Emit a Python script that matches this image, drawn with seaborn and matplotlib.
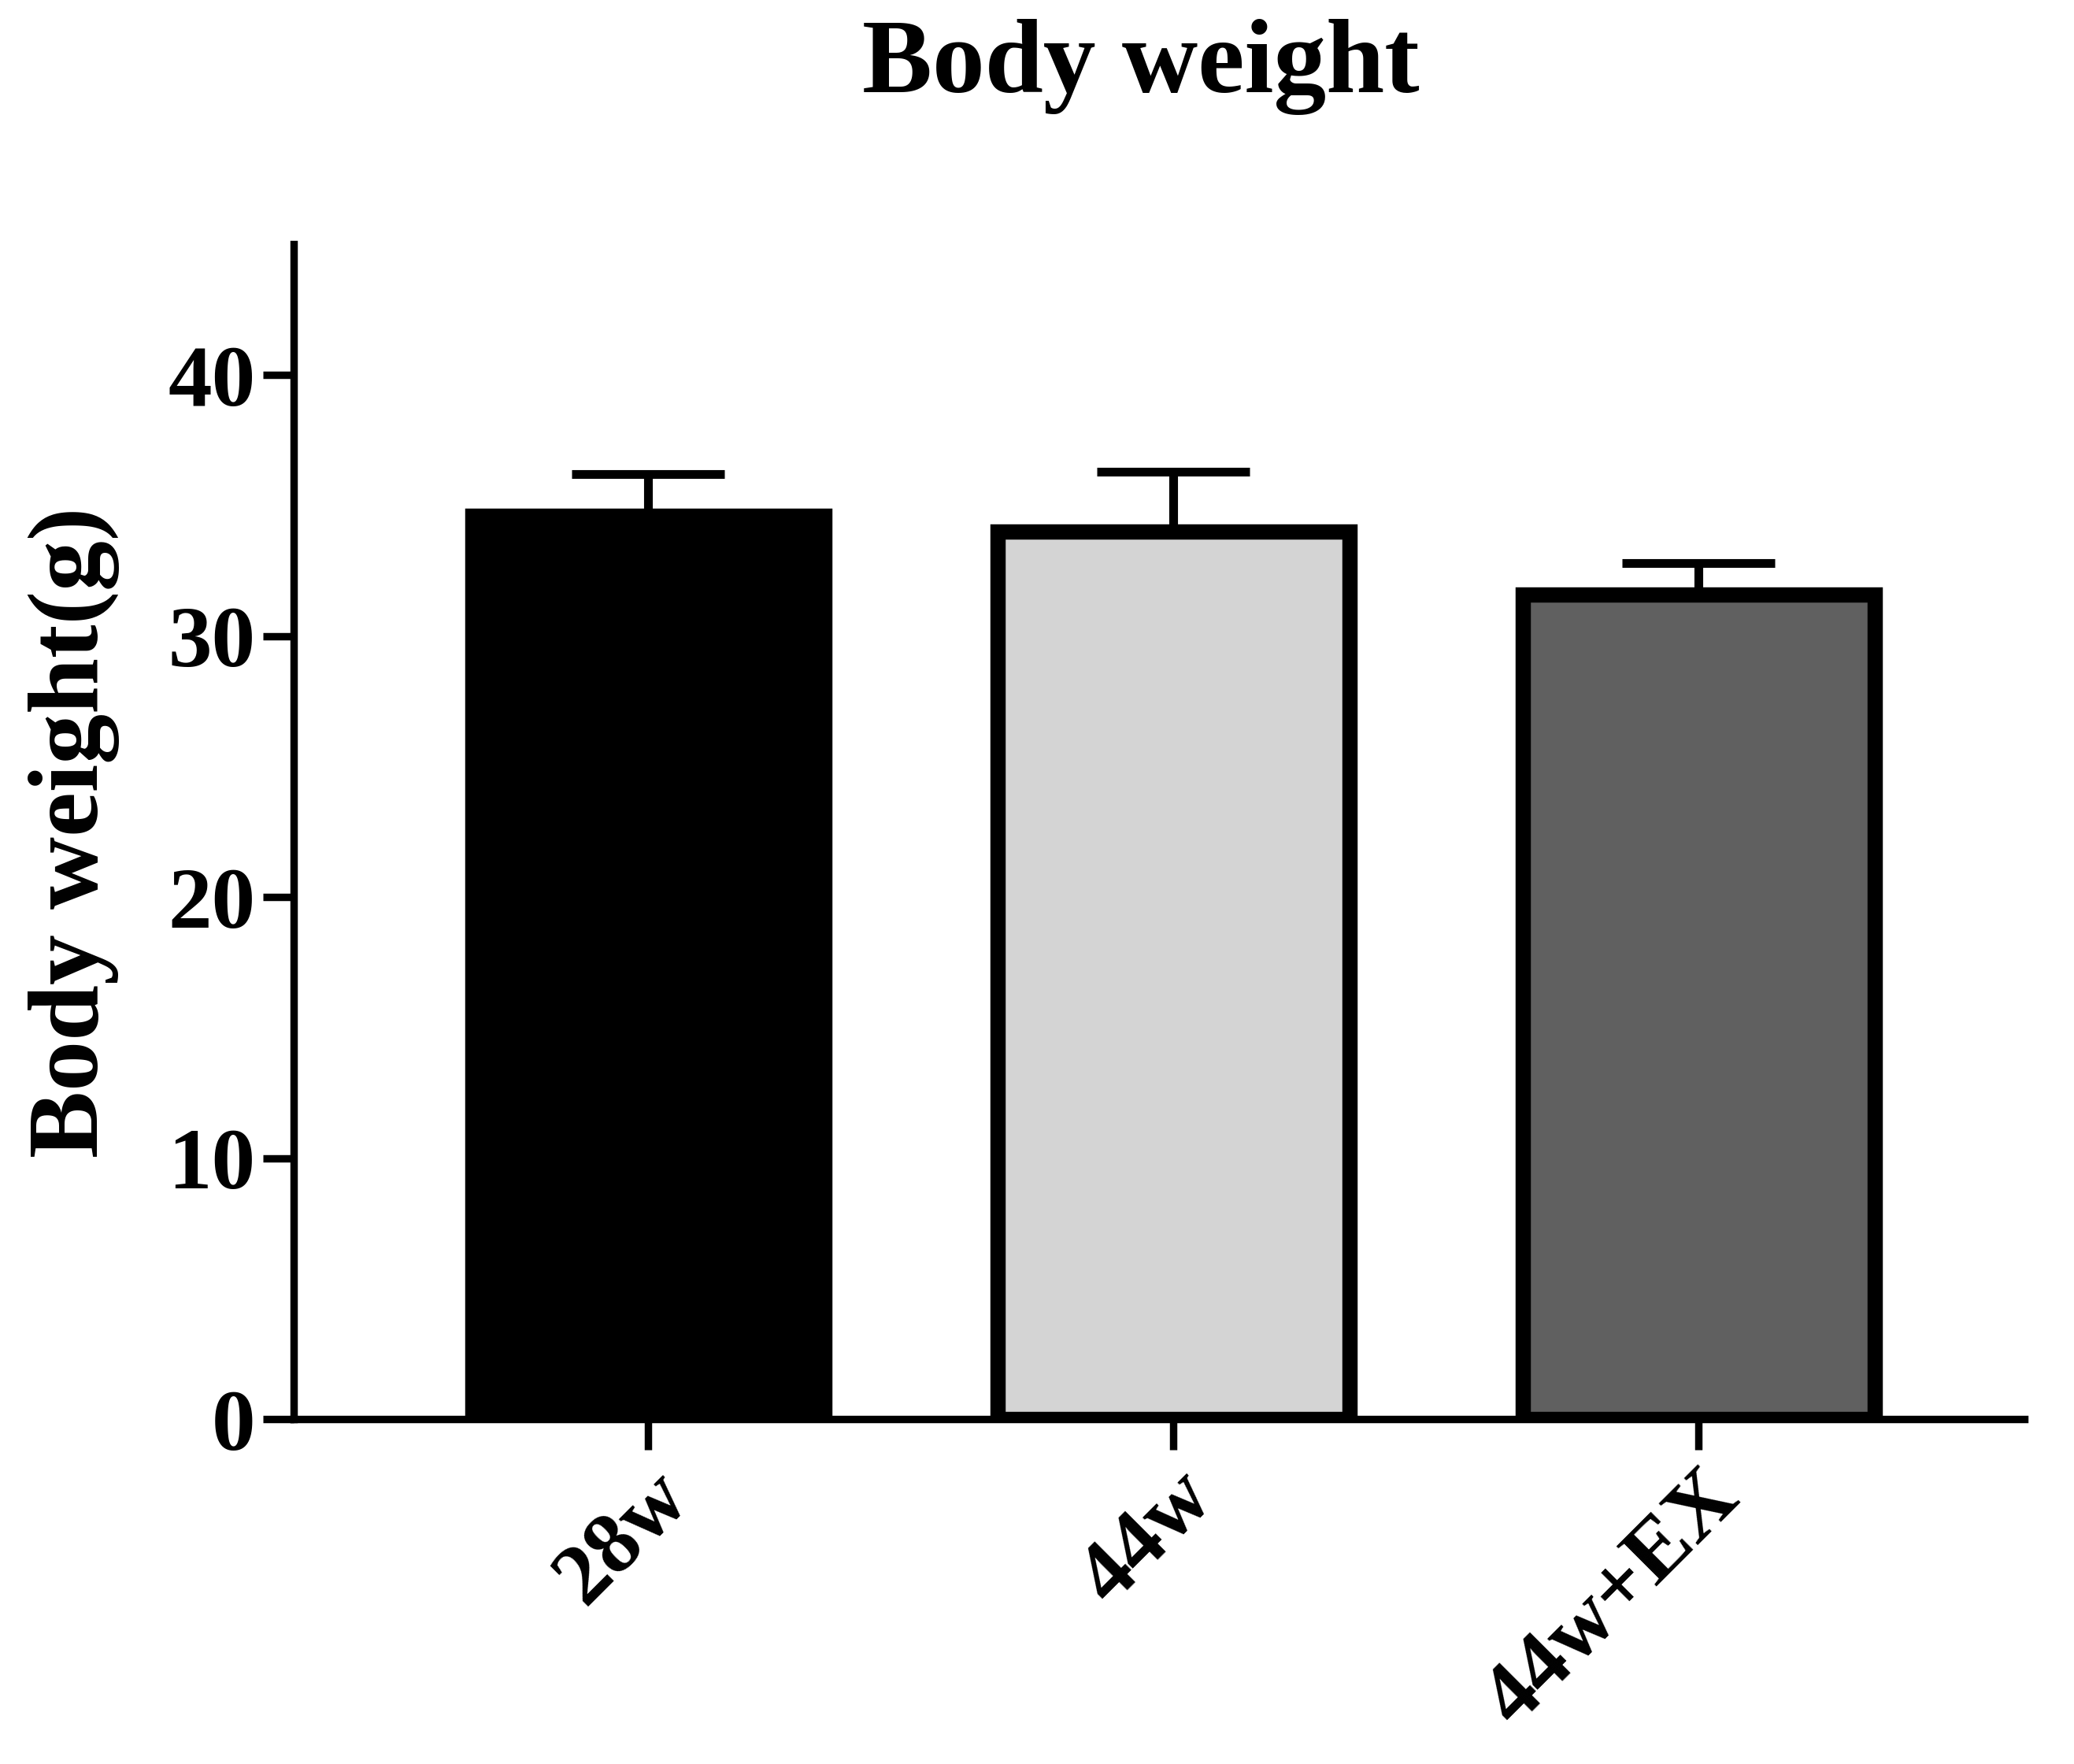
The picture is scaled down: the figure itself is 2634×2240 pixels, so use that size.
import numpy as np
import pandas as pd
import matplotlib
matplotlib.use("Agg")
import matplotlib.pyplot as plt
import seaborn as sns

groups = ["28w", "44w", "44w+EX"]
means = [34.6, 34.0, 31.6]
sems = [1.6, 2.3, 1.2]
colors = ["#000000", "#d4d4d4", "#606060"]

sns.set_style("ticks")
plt.rcParams["font.family"] = ["Liberation Serif", "DejaVu Serif"]
plt.rcParams["font.weight"] = "bold"
plt.rcParams["text.color"] = "black"
plt.rcParams["axes.labelcolor"] = "black"
plt.rcParams["xtick.color"] = "black"
plt.rcParams["ytick.color"] = "black"
plt.rcParams["axes.edgecolor"] = "black"

fig = plt.figure(figsize=(13.17, 11.2), dpi=200)
ax = fig.add_axes([0.1416, 0.1954, 0.8344, 0.666])

df = pd.DataFrame({"group": groups, "mean": means})
sns.barplot(data=df, x="group", y="mean", hue="group", palette=colors,
            width=0.67, edgecolor="black", linewidth=7, errorbar=None,
            legend=False, ax=ax, zorder=2)
ax.errorbar(np.arange(3), means, yerr=[np.zeros(3), sems], fmt="none",
            ecolor="black", elinewidth=4, capsize=35, capthick=4, zorder=1)

ax.set_xlim(-0.675, 2.62)
ax.set_ylim(0, 45)
ax.set_yticks([0, 10, 20, 30, 40])
ax.set_xlabel("")
ax.set_ylabel("Body weight(g)", fontsize=46, fontweight="bold", labelpad=22)
fig.text(0.55, 0.935, "Body weight", fontsize=48, fontweight="bold",
         ha="center", va="bottom")
sns.despine(ax=ax)
for s in ["left", "bottom"]:
    ax.spines[s].set_linewidth(3.4)
ax.tick_params(axis="both", width=3.4, length=14, labelsize=40)
ax.set_xticks(range(3))
ax.set_xticklabels(groups, rotation=45, ha="right", rotation_mode="anchor",
                   fontweight="bold")
for t in ax.get_yticklabels():
    t.set_fontweight("bold")

fig.savefig("out.png", dpi=200)
